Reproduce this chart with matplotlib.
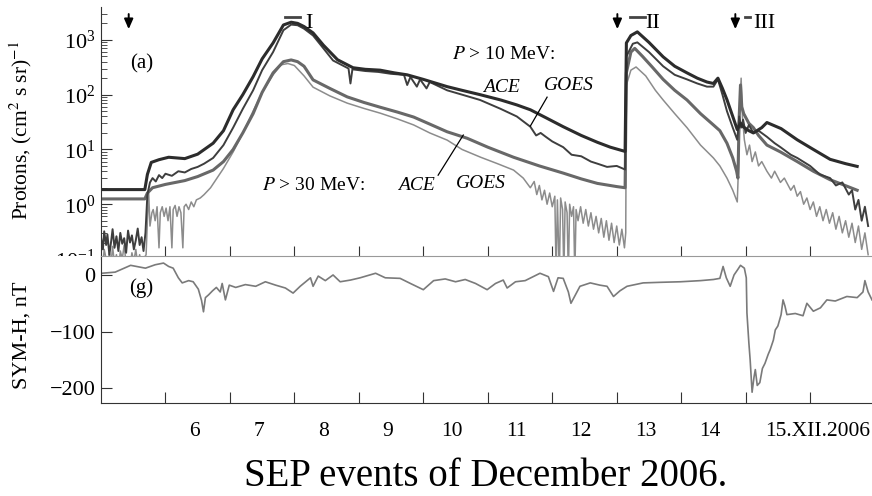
"""SEP events of December 2006: proton fluxes and SYM-H"""

import matplotlib
matplotlib.use("Agg")
import matplotlib.pyplot as plt
import matplotlib.transforms as mtransforms
from matplotlib.patches import Rectangle

plt.rcParams['font.family'] = ['Liberation Serif', 'DejaVu Serif']
plt.rcParams['mathtext.fontset'] = 'stix'

# ---- data (day of December 2006, flux in (cm^2 s sr)^-1) ----
# GOES P > 10 MeV
goes10_day = [5.0, 5.68, 5.72, 5.78, 5.9, 6.05, 6.3, 6.5, 6.74, 6.9, 7.05, 7.2, 7.36, 7.5, 7.67,
              7.83, 7.95, 8.05, 8.15, 8.29, 8.45, 8.67, 8.91, 9.1, 9.33, 9.55, 9.75, 10.0, 10.37,
              10.6, 10.88, 11.2, 11.45, 11.66, 11.9, 12.17, 12.45, 12.7, 12.9, 13.13, 13.15, 13.22,
              13.32, 13.5, 13.72, 13.9, 14.09, 14.25, 14.4, 14.5, 14.57, 14.64, 14.71, 14.8, 14.87,
              14.92, 14.96, 15.05, 15.12, 15.25, 15.33, 15.55, 15.8, 16.05, 16.31, 16.55, 16.73]
goes10_val = [1.85, 1.85, 3.5, 5.8, 6.5, 7.2, 6.8, 8.2, 13, 22, 53, 100, 213, 450, 880,
              1870, 2100, 2000, 1750, 1340, 800, 433, 310, 290, 280, 250, 230, 190, 140,
              120, 100, 80, 65, 53, 38, 26, 18, 13.5, 11, 9.2, 880, 1200,
              1400, 900, 490, 330, 250, 200, 170, 160, 200, 130, 81, 40, 23,
              30, 26, 22, 20, 25, 31, 24, 15, 10, 6.6, 5.5, 4.9]

# ACE P > 10 MeV
ace10_day = [5.00, 5.03, 5.05, 5.08, 5.10, 5.13, 5.16, 5.18, 5.21, 5.24, 5.27, 5.30, 5.33, 5.36,
             5.39, 5.42, 5.45, 5.48, 5.51, 5.54, 5.57, 5.60, 5.63, 5.66, 5.69,
             5.72, 5.76, 5.8, 5.85, 5.9, 5.95, 6.0, 6.1, 6.2, 6.3, 6.4, 6.5, 6.6, 6.74, 6.9,
             7.05, 7.2, 7.36, 7.5, 7.67, 7.83, 7.95, 8.05, 8.15, 8.29, 8.45, 8.6, 8.84, 8.87,
             8.9, 9.1, 9.3, 9.5, 9.7, 9.75, 9.8, 9.9, 9.95, 10.05, 10.1, 10.37, 10.6, 10.88,
             11.2, 11.45, 11.66, 11.75, 11.82, 11.9, 12.0, 12.17, 12.3, 12.45, 12.6, 12.7,
             12.85, 13.0, 13.13, 13.15, 13.25, 13.32, 13.5, 13.72, 13.9, 14.09, 14.25, 14.4,
             14.5, 14.57, 14.64, 14.71, 14.8, 14.87, 14.9, 14.93, 14.96, 15.0, 15.05, 15.12,
             15.2, 15.33, 15.45, 15.54, 15.7, 15.8, 16.0, 16.15, 16.31, 16.4, 16.5, 16.6,
             16.65, 16.7, 16.75, 16.8, 16.85, 16.9]
ace10_val = [0.25, 0.15, 0.32, 0.18, 0.28, 0.12, 0.22, 0.35, 0.16, 0.26, 0.14, 0.30, 0.19, 0.24,
             0.13, 0.33, 0.20, 0.27, 0.15, 0.22, 0.36, 0.18, 0.25, 0.14, 0.30,
             1.5, 2.5, 3.0, 2.6, 3.4, 3.0, 3.6, 3.3, 4.0, 3.8, 4.4, 4.8, 5.5, 7, 12,
             25, 55, 120, 280, 600, 1500, 1900, 1850, 1600, 1200, 700, 420, 300, 160,
             290, 270, 260, 240, 230, 150, 210, 140, 190, 130, 170, 120, 100, 80,
             55, 40, 26, 18, 20, 17, 14, 11, 8, 7.5, 6, 5.5,
             4.8, 5, 4.3, 500, 850, 900, 600, 330, 230, 190, 160, 140,
             140, 190, 100, 50, 25, 15, 40, 25, 35, 20, 28, 20,
             22, 17, 13, 11, 8, 7, 5, 3.5, 3.0, 2.2, 2.5, 1.5,
             1.8, 0.8, 1.2, 0.5, 0.9, 0.4]

# GOES P > 30 MeV
goes30_day = [5.0, 5.68, 5.72, 5.8, 6.0, 6.3, 6.5, 6.74, 6.9, 7.05, 7.2, 7.36, 7.5, 7.67, 7.83,
              7.95, 8.05, 8.15, 8.29, 8.55, 8.82, 9.08, 9.33, 9.6, 9.85, 10.1, 10.37, 10.68,
              11.0, 11.4, 11.8, 12.17, 12.45, 12.7, 13.0, 13.13, 13.15, 13.22, 13.28, 13.4,
              13.55, 13.72, 13.9, 14.09, 14.3, 14.5, 14.6, 14.71, 14.8, 14.86, 14.88, 14.9,
              14.92, 14.94, 14.97, 15.05, 15.12, 15.2, 15.33, 15.54, 15.8, 16.05, 16.31, 16.5,
              16.73]
goes30_val = [1.25, 1.25, 1.6, 2.0, 2.3, 2.7, 3.2, 4.2, 6, 10, 20, 45, 110, 250, 400,
              430, 400, 330, 186, 130, 91, 72, 59, 48, 39, 29, 21, 16,
              11, 7.2, 5, 3.7, 2.9, 2.4, 2.1, 2.0, 250, 600, 700, 500,
              320, 190, 120, 80, 45, 28, 22, 13, 7, 4, 3, 40,
              150, 60, 45, 30, 25, 18, 12, 9, 6, 4, 2.8, 2.3,
              1.8]

# ACE P > 30 MeV
ace30_day = [5.00, 5.03, 5.05, 5.08, 5.10, 5.13, 5.16, 5.18, 5.21, 5.24, 5.27, 5.30, 5.33, 5.36,
             5.39, 5.42, 5.45, 5.48, 5.51, 5.54, 5.57, 5.60, 5.63, 5.66, 5.70, 5.72, 5.74, 5.76,
             5.79, 5.81, 5.84, 5.87, 5.90, 5.92, 5.95, 5.98, 6.01, 6.04, 6.07, 6.10, 6.12, 6.15,
             6.18, 6.21, 6.24, 6.27, 6.29, 6.32, 6.36, 6.40, 6.44, 6.48, 6.54, 6.6, 6.7, 6.8,
             6.9, 7.05, 7.2, 7.36, 7.5, 7.67, 7.79, 7.9, 8.0, 8.15, 8.29, 8.55, 8.82, 9.08,
             9.33, 9.6, 9.85, 10.1, 10.37, 10.6, 10.89, 11.15, 11.4, 11.55, 11.66, 11.72, 11.76,
             11.8, 11.84, 11.88, 11.92, 11.96, 12.0, 12.04, 12.06, 12.08, 12.11, 12.13, 12.16,
             12.18, 12.2, 12.23, 12.25, 12.27, 12.3, 12.33, 12.35, 12.37, 12.4, 12.44, 12.48,
             12.52, 12.56, 12.6, 12.64, 12.68, 12.72, 12.76, 12.8, 12.84, 12.88, 12.92, 12.96,
             13.0, 13.04, 13.08, 13.12, 13.14, 13.15, 13.22, 13.3, 13.45, 13.6, 13.72, 13.9,
             14.09, 14.3, 14.5, 14.6, 14.71, 14.8, 14.87, 14.89, 14.91, 14.93, 14.95, 14.98,
             15.02, 15.06, 15.1, 15.15, 15.2, 15.25, 15.33, 15.4, 15.45, 15.54, 15.6, 15.7,
             15.75, 15.8, 15.85, 15.9, 15.95, 16.0, 16.05, 16.1, 16.15, 16.2, 16.25, 16.3,
             16.35, 16.4, 16.45, 16.5, 16.55, 16.6, 16.65, 16.7, 16.75, 16.8, 16.85, 16.9]
ace30_val = [0.12, 0.08, 0.15, 0.10, 0.07, 0.13, 0.09, 0.17, 0.08, 0.12, 0.06, 0.14, 0.10, 0.18,
             0.08, 0.11, 0.07, 0.13, 0.09, 0.15, 0.08, 0.12, 0.07, 0.10, 0.12, 0.5, 1.6, 0.4,
             0.7, 0.8, 0.5, 0.9, 0.16, 0.7, 0.9, 0.6, 0.85, 0.5, 0.9, 0.16, 0.8, 0.95,
             0.6, 0.9, 0.7, 0.16, 0.9, 1.0, 0.8, 1.1, 0.9, 1.2, 1.3, 1.5, 2.0, 3.0,
             4.5, 9, 20, 50, 110, 230, 350, 370, 340, 220, 137, 95, 70, 56,
             46, 36, 28, 20, 14.8, 10, 7.2, 5.5, 4.2, 3, 2.0, 2.6, 1.5,
             2.2, 1.2, 1.8, 1.0, 1.6, 0.9, 1.4, 0.05, 1.2, 0.05, 1.3, 0.8,
             0.05, 1.1, 0.7, 0.05, 1.0, 0.6, 0.9, 0.05, 0.8, 0.5, 0.9, 0.45,
             0.8, 0.4, 0.7, 0.35, 0.6, 0.3, 0.55, 0.25, 0.5, 0.22, 0.45, 0.2,
             0.4, 0.18, 0.35, 0.16, 0.3, 150, 280, 320, 220, 120, 80, 45,
             25, 12, 7, 5, 3, 1.8, 1.1, 5, 60, 200, 40, 15,
             8, 12, 6, 9, 5, 6, 4, 3, 4, 2.5, 3, 1.8,
             2.2, 1.4, 1.7, 1.0, 1.3, 0.8, 1.1, 0.6, 0.9, 0.5, 0.8, 0.45,
             0.7, 0.35, 0.6, 0.3, 0.5, 0.25, 0.45, 0.2, 0.4, 0.15, 0.3, 0.12]

# SYM-H index, nT
symh_day = [5.01, 5.22, 5.46, 5.69, 5.84, 5.97, 6.05, 6.12, 6.2, 6.26, 6.36, 6.43, 6.51, 6.56,
            6.59, 6.62, 6.67, 6.73, 6.79, 6.85, 6.88, 6.93, 6.99, 7.09, 7.24, 7.4, 7.55, 7.71,
            7.86, 7.98, 8.09, 8.25, 8.29, 8.37, 8.48, 8.6, 8.71, 8.87, 9.02, 9.26, 9.41, 9.64,
            9.8, 10.0, 10.16, 10.34, 10.5, 10.65, 10.81, 10.99, 11.12, 11.24, 11.3, 11.43,
            11.58, 11.81, 11.94, 12.02, 12.09, 12.17, 12.25, 12.29, 12.36, 12.43, 12.59, 12.74,
            12.85, 12.95, 13.05, 13.16, 13.41, 13.67, 13.99, 14.3, 14.5, 14.6, 14.65, 14.7,
            14.76, 14.82, 14.88, 14.92, 14.98, 15.01, 15.02, 15.05, 15.07, 15.1, 15.13, 15.15,
            15.18, 15.22, 15.26, 15.3, 15.35, 15.38, 15.43, 15.46, 15.5, 15.55, 15.58, 15.61,
            15.64, 15.77, 15.89, 15.95, 16.05, 16.16, 16.26, 16.39, 16.57, 16.73, 16.82, 16.85,
            16.9, 16.96]
symh_val = [3, 5, 17, 12, 18, 21, 15, 12, -5, -14, -10, -12, -25, -45,
            -65, -40, -35, -28, -22, -30, -15, -44, -18, -22, -17, -20, -12, -18,
            -23, -32, -20, -5, -20, -2, -10, 0, -12, -9, -5, 3, -5, -6,
            -15, -26, -10, -7, -12, -8, -15, -26, -15, -9, -23, -12,
            -10, 3, -3, -29, -5, -6, -30, -50, -35, -20, -14, -18,
            -20, -38, -28, -20, -14, -13, -12, -10, -8, -6, 15, -5,
            -20, 0, 10, 17, 12, -5, -67, -120, -150, -207, -180, -167,
            -195, -190, -165, -156, -140, -132, -115, -97, -90, -70, -44, -55,
            -70, -68, -72, -50, -64, -58, -44, -46, -38, -40, -30, -10,
            -30, -44]

day_ticks = [6, 7, 8, 9, 10, 11, 12, 13, 14, 15, 16]
day_labels = ['6', '7', '8', '9', '10', '11', '12', '13', '14', '15.XII.2006']
flare_days = [5.43, 13.01, 14.84]
intervals = [(7.86, 8.09, 'I', 8.23), (13.21, 13.44, 'II', 13.56), (14.99, 15.07, 'III', 15.29)]

# ---- figure ----
fig = plt.figure(figsize=(8.72, 4.96), dpi=100)
ax1 = fig.add_axes([0.1158, 0.4778, 0.8842, 0.5081])
ax2 = fig.add_axes([0.1158, 0.1875, 0.8842, 0.2964])

ax1.plot(ace30_day, ace30_val, color='#8c8c8c', lw=1.1)
ax1.plot(goes30_day, goes30_val, color='#686868', lw=2.2)
ax1.plot(ace10_day, ace10_val, color='#3e3e3e', lw=1.4)
ax1.plot(goes10_day, goes10_val, color='#2c2c2c', lw=2.2)

ax1.set_yscale('log')
ax1.set_ylim(0.1, 10 ** 3.6)
ax1.set_xlim(5, 16.96)
for s in ['top', 'right', 'bottom']:
    ax1.spines[s].set_visible(False)
ax1.spines['left'].set_color('#333333')
ax1.tick_params(axis='x', bottom=False, labelbottom=False)
ax1.tick_params(axis='y', which='major', direction='in', length=8, labelsize=16, pad=4,
                color='#333333')
ax1.tick_params(axis='y', which='minor', direction='in', length=4, color='#333333')
ax1.set_ylabel('Protons, (cm$^2$ s sr)$^{-1}$', fontsize=15.5)
ax1.yaxis.set_label_coords(-0.087, 0.51)

# flare arrows and interval bars
trans1 = mtransforms.blended_transform_factory(ax1.transData, ax1.transAxes)
for d in flare_days:
    ax1.annotate('', xy=(d, 0.912), xytext=(d, 0.972), xycoords=trans1, textcoords=trans1,
                 arrowprops=dict(arrowstyle='-|>,head_length=0.5,head_width=0.22',
                                 color='black', lw=1.4, mutation_scale=12,
                                 shrinkA=0, shrinkB=0))
for x0, x1, name, xt in intervals:
    ax1.plot([x0, x1], [0.962, 0.962], transform=trans1, color='#444444', lw=2)
    ax1.text(xt, 0.935, name, transform=trans1, ha='center', va='center', fontsize=16)

ax1.text(5.63, 370, '(a)', ha='center', va='center', fontsize=15)
ax1.text(10.45, 530, '$P$ > 10 MeV:', ha='left', va='center', fontsize=14)
ax1.text(11.21, 137, 'ACE', ha='center', va='center', fontsize=14, style='italic')
ax1.text(12.26, 150, 'GOES', ha='center', va='center', fontsize=14, style='italic')
ax1.plot([11.92, 11.66], [90, 26.7], color='black', lw=0.9)
ax1.text(7.5, 2.2, '$P$ > 30 MeV:', ha='left', va='center', fontsize=14)
ax1.text(9.89, 2.2, 'ACE', ha='center', va='center', fontsize=14, style='italic')
ax1.text(10.9, 2.42, 'GOES', ha='center', va='center', fontsize=14, style='italic')
ax1.plot([10.23, 10.62], [3.39, 18.3], color='black', lw=0.9)

# SYM-H panel
ax2.plot(symh_day, symh_val, color='#7a7a7a', lw=1.2)
ax2.set_xlim(5, 16.96)
ax2.set_ylim(-226, 33.5)
ax2.spines['right'].set_visible(False)
for s in ['left', 'bottom']:
    ax2.spines[s].set_color('#333333')
ax2.spines['top'].set_color('#999999')
ax2.set_yticks([0, -100, -200])
ax2.set_yticklabels(['0', '\u2212100', '\u2212200'])
ax2.tick_params(axis='y', direction='in', length=8, labelsize=16, pad=4, color='#333333')
ax2.set_xticks(day_ticks)
ax2.tick_params(axis='x', direction='in', length=8, labelbottom=False, color='#333333')
ax2.tick_params(axis='x', top=True, labeltop=False)
for t in ax2.xaxis.get_major_ticks():
    t.tick2line.set_marker(2)
    t.tick2line.set_markersize(7)
ax2.set_ylabel('SYM-H, nT', fontsize=16)
ax2.yaxis.set_label_coords(-0.09, 0.46)
ax2.text(5.63, -23, '(g)', ha='center', va='center', fontsize=15)

trans2 = mtransforms.blended_transform_factory(ax2.transData, ax2.transAxes)
for d, lab in zip(day_ticks[:-2], day_labels[:-1]):
    ax2.text(d + 0.45, -0.197, lab, transform=trans2, ha='center', va='center', fontsize=15.5)
ax2.text(15.3, -0.197, day_labels[-1], transform=trans2, ha='left', va='center', fontsize=15.5)

# white strip hiding the lower half of the 10^-1 label, as in the original
fig.patches.append(Rectangle((0.06, 1 - 268 / 496), 0.055, 12 / 496, transform=fig.transFigure,
                             facecolor='white', edgecolor='none', zorder=5))

fig.text(0.557, 0.02, 'SEP events of December 2006.', ha='center', va='baseline', fontsize=28)

fig.savefig('out.png', dpi=100)
